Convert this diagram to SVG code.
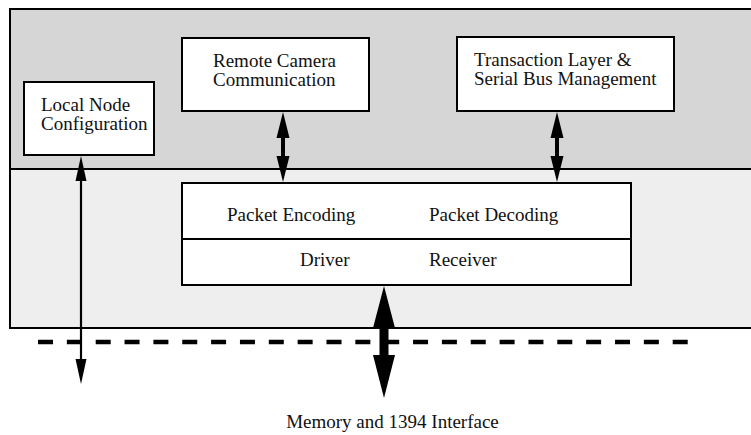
<svg xmlns="http://www.w3.org/2000/svg" width="751" height="435" viewBox="0 0 751 435">
<style>
.box{fill:#fff;stroke:#000;stroke-width:2}
.t{font-family:"Liberation Serif","Times New Roman",serif;font-size:19px;fill:#111}
.sh{stroke:#000;fill:none}
.hd{fill:#000}
</style>
<rect x="0" y="0" width="751" height="435" fill="#fff"/>
<g id="background">
<rect x="10" y="9" width="760" height="160" fill="#d6d6d6"/>
<rect x="10" y="169" width="760" height="159" fill="#eeeeee"/>
<rect x="10" y="9" width="760" height="319" fill="none" stroke="#000" stroke-width="2"/>
<line x1="10" y1="169" x2="770" y2="169" stroke="#000" stroke-width="2"/>
<line x1="38" y1="342" x2="688" y2="342" stroke="#000" stroke-width="4.5" stroke-dasharray="15 13.85"/>
</g>
<g id="local-node">
<rect class="box" x="24" y="82" width="130" height="73"/>
<text class="t" x="41" y="111">Local Node</text>
<text class="t" x="41" y="130">Configuration</text>
</g>
<g id="remote-camera">
<rect class="box" x="182" y="38" width="187" height="73"/>
<text class="t" x="213" y="67">Remote Camera</text>
<text class="t" x="213" y="86">Communication</text>
</g>
<g id="transaction-layer">
<rect class="box" x="457" y="37" width="217" height="74"/>
<text class="t" x="474" y="66">Transaction Layer &amp;</text>
<text class="t" x="474" y="85">Serial Bus Management</text>
</g>
<g id="packet-box">
<rect class="box" x="182" y="183" width="449" height="102"/>
<line x1="182" y1="239" x2="631" y2="239" stroke="#000" stroke-width="2"/>
<text class="t" x="227" y="221">Packet Encoding</text>
<text class="t" x="429" y="221">Packet Decoding</text>
<text class="t" x="300" y="266">Driver</text>
<text class="t" x="429" y="266">Receiver</text>
</g>
<g id="memory-label">
<text class="t" x="392.5" y="428" text-anchor="middle">Memory and 1394 Interface</text>
</g>
<g id="connectors">
<line class="sh" x1="283" y1="130" x2="283" y2="164" stroke-width="4"/>
<polygon class="hd" points="283,112 276.5,138 289.5,138"/>
<polygon class="hd" points="283,182 276.5,156 289.5,156"/>
<line class="sh" x1="557" y1="130" x2="557" y2="164" stroke-width="4"/>
<polygon class="hd" points="557,112 550.5,138 563.5,138"/>
<polygon class="hd" points="557,182 550.5,156 563.5,156"/>
<line class="sh" x1="81" y1="175" x2="81" y2="365" stroke-width="2.2"/>
<polygon class="hd" points="81,156 75.5,181 86.5,181"/>
<polygon class="hd" points="81,384 75.5,359 86.5,359"/>
<line class="sh" x1="384" y1="320" x2="384" y2="362" stroke-width="9"/>
<polygon class="hd" points="384,286 373,328 395,328"/>
<polygon class="hd" points="384,398 373,355 395,355"/>
</g>
</svg>
